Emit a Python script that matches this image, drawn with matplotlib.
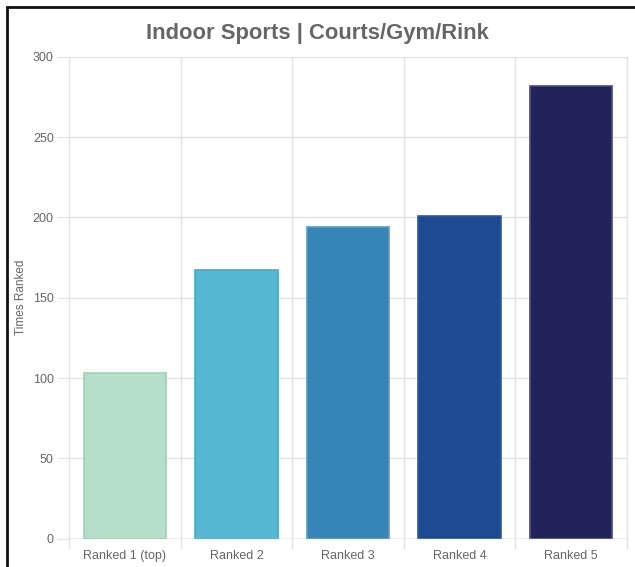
import matplotlib.pyplot as plt
from matplotlib.patches import Rectangle

labels = ["Ranked 1 (top)", "Ranked 2", "Ranked 3", "Ranked 4", "Ranked 5"]
counts = [103, 167, 194, 201, 282]
colors = ["#b5dfcb", "#56b8d2", "#3784b6", "#1e4a91", "#23235b"]
edges = ["#9fcfb5", "#49a9c4", "#5b9ac4", "#2a5aa0", "#4a4a80"]

plt.rcParams['font.family'] = ['Liberation Sans', 'DejaVu Sans']

fig = plt.figure(figsize=(6.35, 5.67), dpi=100)
ax = fig.add_axes([69/635, 1-538.7/567, (627-69)/635, (538.7-56.7)/567])

x = list(range(len(labels)))
ax.bar(x, counts, width=0.74, color=colors, edgecolor=edges, linewidth=1.2, zorder=3)

ax.set_xlim(-0.5, len(labels) - 0.5)
ax.set_ylim(0, 300)
ax.set_yticks(range(0, 301, 50))
ax.set_xticks(x)
ax.set_xticklabels(labels)

# category boundary grid lines
for b in [i - 0.5 for i in range(len(labels) + 1)]:
    ax.axvline(b, color="#e3e3e3", lw=1, zorder=1, clip_on=False)
    ax.plot([b, b], [0, -0.02], transform=ax.get_xaxis_transform(),
            color="#e3e3e3", lw=1, clip_on=False)
ax.yaxis.grid(True, color="#e3e3e3", lw=1, zorder=1)

for s in ax.spines.values():
    s.set_visible(False)
ax.axhline(0, color="#c8c8c8", lw=1, zorder=4)

ax.tick_params(axis="x", length=0, pad=8, labelsize=9, labelcolor="#666666")
ax.tick_params(axis="y", length=9, color="#e3e3e3", pad=2, labelsize=9, labelcolor="#666666")

ax.set_ylabel("Times Ranked", fontsize=8.5, color="#666666", labelpad=4)
fig.text(0.5, 1-33/567, "Indoor Sports | Courts/Gym/Rink", ha="center", va="center",
         fontsize=15.8, fontweight="bold", color="#666666")

# screenshot frame: only left and top edges visible
fig.patches.append(Rectangle((6.5/635, -0.05), 1.1, 1.05 - 7/567,
                             transform=fig.transFigure, fill=False,
                             edgecolor="#111111", lw=2))

plt.savefig("out.png", dpi=100)
